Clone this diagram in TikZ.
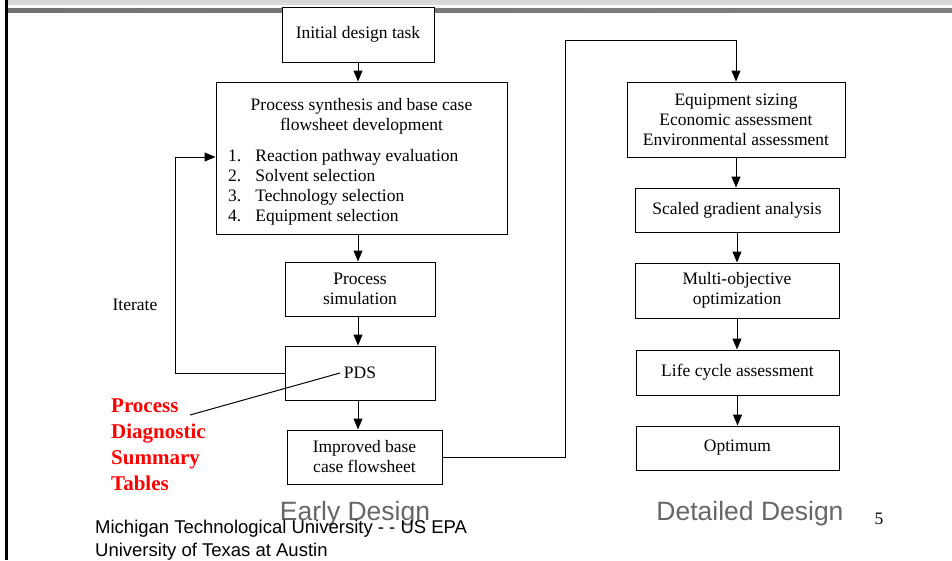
\documentclass[tikz,border=0pt]{standalone}
\usepackage{fontspec}
\setmainfont{Liberation Serif}
\newfontfamily\slidefont{Liberation Sans}
\usetikzlibrary{arrows.meta}
\tikzset{>={Triangle[length=11pt, width=9pt]}}
\definecolor{bargray}{HTML}{D9D9D9}
\definecolor{phasegray}{HTML}{666666}
\tikzset{
  stage/.style={draw=black, fill=white, line width=1pt, inner sep=0pt, align=center, font=\fontsize{17.5}{20}\selectfont},
  plain/.style={inner sep=0pt, align=center, font=\fontsize{17.5}{20}\selectfont},
  phase/.style={inner sep=0pt, text=phasegray, font=\slidefont\fontsize{26.5}{30}\selectfont},
  footer/.style={inner sep=0pt, anchor=base west, font=\slidefont\fontsize{18.5}{22}\selectfont},
  flow/.style={->, line width=1pt},
}

\begin{document}
\begin{tikzpicture}[x=1pt, y=-1pt]
\useasboundingbox (0,0) rectangle (952,560);

% slide frame
\fill[bargray] (8,0) rectangle (952,5);
\shade[left color=black!55, middle color=black!20, right color=black!50] (8,8) rectangle (952,12.5);
\fill[black] (5,0) rectangle (7.5,560);

% early design column
\node[stage, minimum width=152pt, minimum height=55pt] (init) at (358,34.5) {Initial design task};
\node[stage, minimum width=291pt, minimum height=152pt] (synth) at (361.5,158) {};
\node[plain] (synthhead) at (361.5,116) {Process synthesis and base case\\flowsheet development};
\node[plain, anchor=west] (synthlist) at (228,187.5) {\begin{tabular}{@{}l@{\hspace{14pt}}l@{}}
1.&Reaction pathway evaluation\\
2.&Solvent selection\\
3.&Technology selection\\
4.&Equipment selection
\end{tabular}};
\node[stage, minimum width=150pt, minimum height=54pt] (sim) at (360,289) {Process\\simulation};
\node[stage, minimum width=150pt, minimum height=54pt] (pds) at (360,373) {PDS};
\node[stage, minimum width=155pt, minimum height=54pt] (improved) at (364.5,457) {Improved base\\case flowsheet};

\draw[flow] (init.south) -- (init.south |- synth.north);
\draw[flow] (synth.south -| init) -- (sim.north -| init);
\draw[flow] (sim.south -| init) -- (pds.north -| init);
\draw[flow] (pds.south -| init) -- (improved.north -| init);

% iterate loop
\coordinate (iter) at (175,157);
\draw[flow] (pds.west) -| (iter) -- (iter -| synth.west);
\node[plain] (iterlabel) at (135,305) {Iterate};

% PDS callout
\node[inner sep=0pt, anchor=north west, align=left, text=red, font=\bfseries\fontsize{21}{26}\selectfont] (pdstext) at (111,399) {Process\\Diagnostic\\Summary\\Tables};
\coordinate (pdsfoot) at (190,415);
\draw[line width=1pt] ([xshift=-20pt]pds.center) -- (pdsfoot);

% detailed design column
\node[stage, minimum width=218pt, minimum height=75pt] (equip) at (736,119.5) {Equipment sizing\\Economic assessment\\Environmental assessment};
\node[stage, minimum width=204pt, minimum height=44pt] (sga) at (737,210) {Scaled gradient analysis};
\node[stage, minimum width=204pt, minimum height=55pt] (moo) at (737,290.5) {Multi-objective\\optimization};
\node[stage, minimum width=203pt, minimum height=45pt] (lca) at (737.5,372.5) {Life cycle assessment};
\node[stage, minimum width=203pt, minimum height=44pt] (opt) at (737.5,448) {Optimum};

\coordinate (turn) at (565,40);
\draw[flow] (improved.east) -| (turn) -| (equip.north);
\draw[flow] (equip.south) -- (equip.south |- sga.north);
\draw[flow] (sga.south) -- (sga.south |- moo.north);
\draw[flow] (moo.south) -- (moo.south |- lca.north);
\draw[flow] (lca.south) -- (lca.south |- opt.north);

% footer
\node[phase] (early) at (355,514) {Early Design};
\node[phase] (detailed) at (750,514) {Detailed Design};
\node[plain] (pagenum) at (879,519) {5};
\node[footer] (foot1) at (95,533) {Michigan Technological University - - US EPA};
\node[footer] (foot2) at (95,556) {University of Texas at Austin};

\end{tikzpicture}
\end{document}
